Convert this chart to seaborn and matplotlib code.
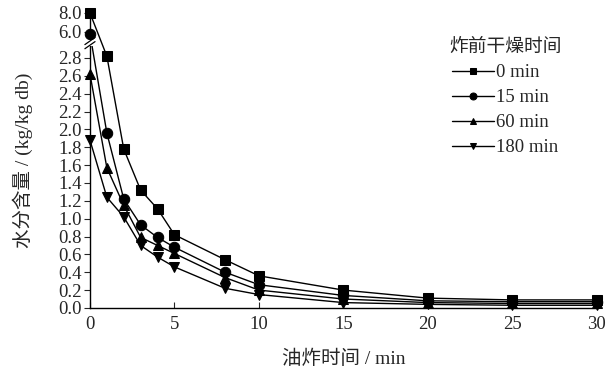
import numpy as np
import pandas as pd
import matplotlib
matplotlib.use('Agg')
import matplotlib.pyplot as plt
import seaborn as sns

# frying time (min)
time_min = [0, 1, 2, 3, 4, 5, 8, 10, 15, 20, 25, 30]

# moisture content (kg/kg db) for each pre-drying time
dry_0 = [8.0, 2.82, 1.78, 1.32, 1.11, 0.82, 0.54, 0.36, 0.20, 0.11, 0.09, 0.09]
dry_15 = [5.8, 1.96, 1.22, 0.93, 0.79, 0.68, 0.40, 0.26, 0.14, 0.08, 0.07, 0.07]
dry_60 = [2.62, 1.57, 1.15, 0.79, 0.70, 0.61, 0.34, 0.20, 0.10, 0.06, 0.05, 0.05]
dry_180 = [1.88, 1.24, 1.02, 0.70, 0.57, 0.46, 0.22, 0.15, 0.06, 0.04, 0.03, 0.03]

groups = ['0 min', '15 min', '60 min', '180 min']
markers = ['s', 'o', '^', 'v']

ytick_vals = [0.0, 0.2, 0.4, 0.6, 0.8, 1.0, 1.2, 1.4, 1.6, 1.8, 2.0, 2.2, 2.4, 2.6, 2.8, 6.0, 8.0]

df = pd.DataFrame({
    't': time_min * 4,
    'mc': dry_0 + dry_15 + dry_60 + dry_180,
    'group': np.repeat(groups, len(time_min)),
})

# broken y axis done with a piecewise scale
B0, B1 = 2.95, 5.7
S1, S2 = 0.04, 0.106


def fwd(y):
    y = np.asarray(y, dtype=float)
    return np.where(y <= B0, y,
                    np.where(y <= B1, B0 + (y - B0) * S1,
                             B0 + (B1 - B0) * S1 + (y - B1) * S2))


def inv(v):
    v = np.asarray(v, dtype=float)
    v1 = B0 + (B1 - B0) * S1
    return np.where(v <= B0, v,
                    np.where(v <= v1, B0 + (v - B0) / S1,
                             B1 + (v - v1) / S2))


sns.set_style('ticks')
plt.rcParams['font.family'] = ['Liberation Serif', 'Noto Sans CJK SC']
plt.rcParams['font.size'] = 13

fig = plt.figure(figsize=(6.12, 3.76), dpi=100)
ax = fig.add_axes([0.147, 0.181, 0.828, 0.787])

sns.lineplot(data=df, x='t', y='mc', style='group', markers=markers, dashes=False,
             color='black', linewidth=1.0, markersize=7.5, markeredgecolor='black',
             ax=ax, clip_on=False)

ax.set_yscale('function', functions=(fwd, inv))
ax.set_ylim(0, 8.1)
ax.set_xlim(0, 30)
ax.set_yticks(ytick_vals)
ax.set_yticklabels(['%.1f' % v for v in ytick_vals])
ax.set_xticks([0, 5, 10, 15, 20, 25, 30])
ax.yaxis.set_minor_locator(matplotlib.ticker.NullLocator())
ax.tick_params(axis='x', direction='in', length=4, labelsize=13.5, pad=6)
ax.tick_params(axis='y', direction='out', length=4, labelsize=13.5, pad=2)
sns.despine(ax=ax)
for sp in ['left', 'bottom']:
    ax.spines[sp].set_linewidth(1.0)
    ax.spines[sp].set_color('black')

ax.set_xlabel('油炸时间 / min', fontsize=14, labelpad=12)
ax.set_ylabel('水分含量 / (kg/kg db)', fontsize=14, labelpad=18)

# break marks on the y axis
yb = 0.895
ax.add_patch(plt.Rectangle((-0.01, yb - 0.01), 0.02, 0.02, transform=ax.transAxes,
                           facecolor='white', edgecolor='none', clip_on=False, zorder=5))
for off in (-0.007, 0.007):
    ax.plot([-0.01, 0.01], [yb + off - 0.012, yb + off + 0.012], transform=ax.transAxes,
            color='black', lw=0.9, clip_on=False, zorder=6)

handles, labels = ax.get_legend_handles_labels()
for h in handles:
    h.set_markersize(5)
ax.legend(handles, labels, title='炸前干燥时间', frameon=False, loc='upper left',
          bbox_to_anchor=(0.675, 0.965), fontsize=13.5, title_fontsize=13.5,
          handlelength=2.2, handletextpad=0.1, labelspacing=0.42)

fig.savefig('out.png', dpi=100)
